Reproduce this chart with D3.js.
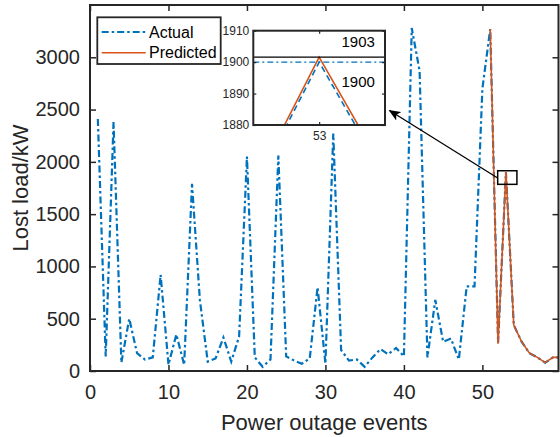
<!DOCTYPE html>
<html><head><meta charset="utf-8">
<script src="https://cdn.jsdelivr.net/npm/d3@7"></script>
<style>
html,body{margin:0;padding:0;background:#fff;}
svg{display:block;font-family:"Liberation Sans",Arial,Helvetica,sans-serif;}
</style></head>
<body><svg id="chart" width="560" height="437"></svg>
<script>
const events = d3.range(1, 61);
const actual = [2410,140,2380,80,500,170,110,130,920,60,
  350,60,1790,680,90,120,320,90,330,2050,
  130,40,110,2060,140,100,70,120,800,70,
  2270,200,100,110,40,130,210,160,220,140,
  3280,2870,130,680,280,310,110,810,810,2700,
  3270,270,1900,440,280,170,130,80,130,130];
const predictedEvents = [51,52,53,54,55,56,57,58,59,60];
const predicted = [3270,260,1901.6,440,280,170,130,80,130,130];
const xTicks = [0,10,20,30,40,50];
const yTicks = [0,500,1000,1500,2000,2500,3000];
const insetYTicks = [1880,1890,1900,1910];
const insetXTicks = [53];
const insetLabels = ["1903","1900"];
const refActual = 1900, refPred = 1901.6;

const BLUE = "#0072BD", ORANGE = "#D95319", AX = "#262626";
const DASHDOT = "7,3,2.5,3";
const svg = d3.select("#chart");

const L = 90, R = 558.5, T = 5, B = 371;
const x = d3.scaleLinear().domain([0, 59.7]).range([L, R]);
const y = d3.scaleLinear().domain([0, 3500]).range([B, T]);

svg.append("clipPath").attr("id","mainclip").append("rect")
  .attr("x",L).attr("y",T).attr("width",R-L).attr("height",B-T);

const line = d3.line().x(d=>x(d[0])).y(d=>y(d[1]));
const gData = svg.append("g").attr("clip-path","url(#mainclip)");
gData.append("path").datum(events.map((e,i)=>[e,actual[i]]))
  .attr("d",line).attr("fill","none").attr("stroke",BLUE)
  .attr("stroke-width",2.2).attr("stroke-dasharray",DASHDOT);
gData.append("path").datum(predictedEvents.map((e,i)=>[e,predicted[i]]))
  .attr("d",line).attr("fill","none").attr("stroke",ORANGE)
  .attr("stroke-width",1.6);

// axes
const fs = 20;
const gx = svg.append("g").attr("transform",`translate(0,${B})`)
  .call(d3.axisBottom(x).tickValues(xTicks).tickSize(-6).tickPadding(14).tickFormat(d3.format("d")));
const gxt = svg.append("g").attr("transform",`translate(0,${T})`)
  .call(d3.axisTop(x).tickValues(xTicks).tickSize(-6).tickFormat(""));
const gy = svg.append("g").attr("transform",`translate(${L},0)`)
  .call(d3.axisLeft(y).tickValues(yTicks).tickSize(-6).tickPadding(10).tickFormat(d3.format("d")));
const gyr = svg.append("g").attr("transform",`translate(${R},0)`)
  .call(d3.axisRight(y).tickValues(yTicks).tickSize(-6).tickFormat(""));
[gx,gxt,gy,gyr].forEach(g=>{
  g.select(".domain").remove();
  g.selectAll(".tick line").attr("stroke",AX).attr("stroke-width",1.5);
  g.selectAll(".tick text").attr("fill",AX).attr("font-size",fs).attr("font-family","Liberation Sans, Arial, sans-serif");
});
svg.append("rect").attr("x",L).attr("y",T).attr("width",R-L).attr("height",B-T)
  .attr("fill","none").attr("stroke",AX).attr("stroke-width",2);

svg.append("text").attr("x",(L+R)/2).attr("y",430).attr("text-anchor","middle")
  .attr("font-size",22).attr("fill",AX).text("Power outage events");
svg.append("text").attr("transform",`translate(28,${(T+B)/2}) rotate(-90)`).attr("text-anchor","middle")
  .attr("font-size",22).attr("fill",AX).text("Lost load/kW");

// zoom box in main plot
const bx0 = x(51.95), bx1 = x(54.4), by0 = y(1915), by1 = y(1785);
svg.append("rect").attr("x",bx0).attr("y",by0).attr("width",bx1-bx0).attr("height",by1-by0)
  .attr("fill","none").attr("stroke","#000").attr("stroke-width",1.5);

// inset
const IL = 253.3, IR = 385, IT = 30.7, IB = 125;
const ix = d3.scaleLinear().domain([52.975, 53.025]).range([IL, IR]);
const iy = d3.scaleLinear().domain([1880, 1910]).range([IB, IT]);
svg.append("rect").attr("x",IL).attr("y",IT).attr("width",IR-IL).attr("height",IB-IT).attr("fill","#fff");
svg.append("clipPath").attr("id","insetclip").append("rect")
  .attr("x",IL).attr("y",IT).attr("width",IR-IL).attr("height",IB-IT);
const iline = d3.line().x(d=>ix(d[0])).y(d=>iy(d[1]));
const gi = svg.append("g").attr("clip-path","url(#insetclip)");
gi.append("path").datum(events.map((e,i)=>[e,actual[i]]))
  .attr("d",iline).attr("fill","none").attr("stroke",BLUE).attr("stroke-width",1.6).attr("stroke-dasharray","6,4");
gi.append("path").datum(predictedEvents.map((e,i)=>[e,predicted[i]]))
  .attr("d",iline).attr("fill","none").attr("stroke",ORANGE).attr("stroke-width",1.6);
gi.append("line").attr("x1",IL).attr("x2",IR).attr("y1",iy(refActual)).attr("y2",iy(refActual))
  .attr("stroke",BLUE).attr("stroke-width",1.3).attr("stroke-dasharray","6,3,2,3");
gi.append("line").attr("x1",IL).attr("x2",IR).attr("y1",iy(refPred)).attr("y2",iy(refPred))
  .attr("stroke","#000").attr("stroke-width",1.3);

const iax = [
  svg.append("g").attr("transform",`translate(${IL},0)`).call(d3.axisLeft(iy).tickValues(insetYTicks).tickSize(-3).tickPadding(4).tickFormat(d3.format("d"))),
  svg.append("g").attr("transform",`translate(${IR},0)`).call(d3.axisRight(iy).tickValues(insetYTicks).tickSize(-3).tickFormat("")),
  svg.append("g").attr("transform",`translate(0,${IB})`).call(d3.axisBottom(ix).tickValues(insetXTicks).tickSize(-3).tickPadding(6).tickFormat(d3.format("d"))),
  svg.append("g").attr("transform",`translate(0,${IT})`).call(d3.axisTop(ix).tickValues(insetXTicks).tickSize(-3).tickFormat(""))
];
iax.forEach(g=>{
  g.select(".domain").remove();
  g.selectAll(".tick line").attr("stroke",AX).attr("stroke-width",1.2);
  g.selectAll(".tick text").attr("fill",AX).attr("font-size",12).attr("font-family","Liberation Sans, Arial, sans-serif");
});
svg.append("rect").attr("x",IL).attr("y",IT).attr("width",IR-IL).attr("height",IB-IT)
  .attr("fill","none").attr("stroke",AX).attr("stroke-width",2);
svg.append("text").attr("x",341.5).attr("y",41).attr("dominant-baseline","central")
  .attr("font-size",15).attr("fill","#000").text(insetLabels[0]);
svg.append("text").attr("x",341.5).attr("y",81).attr("dominant-baseline","central")
  .attr("font-size",15).attr("fill","#000").text(insetLabels[1]);

// arrow
const defs = svg.append("defs");
defs.append("marker").attr("id","arrowhead").attr("viewBox","0 0 12 10").attr("refX",11).attr("refY",5)
  .attr("markerWidth",12).attr("markerHeight",10).attr("markerUnits","userSpaceOnUse").attr("orient","auto")
  .append("path").attr("d","M0,0 L12,5 L0,10 L3,5 Z").attr("fill","#000");
svg.append("line").attr("x1",bx0).attr("y1",(by0+by1)/2+0.5).attr("x2",IR+4.5).attr("y2",IB-14.5)
  .attr("stroke","#000").attr("stroke-width",1.3).attr("marker-end","url(#arrowhead)");

// legend
const LX = 97.3, LY = 17.3, LW = 123.4, LH = 46.7;
svg.append("rect").attr("x",LX).attr("y",LY).attr("width",LW).attr("height",LH)
  .attr("fill","#fff").attr("stroke",AX).attr("stroke-width",1.8);
const legend = [{name:"Actual",color:BLUE,dash:DASHDOT,w:2.2,cy:32},{name:"Predicted",color:ORANGE,dash:null,w:1.6,cy:52.7}];
legend.forEach(it=>{
  svg.append("line").attr("x1",101.7).attr("x2",145.7).attr("y1",it.cy).attr("y2",it.cy)
    .attr("stroke",it.color).attr("stroke-width",it.w).attr("stroke-dasharray",it.dash);
  svg.append("text").attr("x",149).attr("y",it.cy).attr("dominant-baseline","central")
    .attr("font-size",16).attr("fill","#000").text(it.name);
});
</script></body></html>
